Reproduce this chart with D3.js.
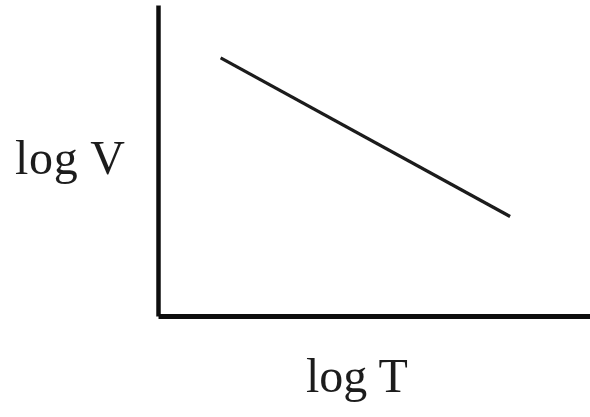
<!DOCTYPE html>
<html>
<head>
<meta charset="utf-8">
<script src="https://cdn.jsdelivr.net/npm/d3@7"></script>
<style>
  html, body { margin: 0; padding: 0; background: #fff; }
  svg { display: block; }
  text { font-family: "Liberation Serif", "Times New Roman", serif; fill: #1e1e1e; }
</style>
</head>
<body>
<svg id="chart" width="590" height="417"></svg>
<script>
// Schematic log V vs log T relation (arbitrary units)
const logT = [1.45, 8.15];
const logV = [8.3, 3.2];
const xLabel = "log T";
const yLabel = "log V";

const svg = d3.select("#chart");
const W = 590, H = 417;
const origin = { x: 158, y: 316 };

const x = d3.scaleLinear().domain([0, 10]).range([origin.x, W]);
const y = d3.scaleLinear().domain([0, 10]).range([origin.y, 5]);

svg.append("defs").append("filter").attr("id", "soft")
  .append("feGaussianBlur").attr("stdDeviation", 0.45);
const g = svg.append("g").attr("filter", "url(#soft)");

// Axes without ticks
const xAxis = d3.axisBottom(x).tickValues([]).tickSizeOuter(0);
const yAxis = d3.axisLeft(y).tickValues([]).tickSizeOuter(0);
g.append("g").attr("transform", `translate(0,${origin.y})`).call(xAxis)
  .select(".domain").attr("stroke", "#111").attr("stroke-width", 5);
g.append("g").attr("transform", `translate(${origin.x},0)`).call(yAxis)
  .select(".domain").attr("stroke", "#111").attr("stroke-width", 4.5);

// Straight relation line
const pts = logT.map((t, i) => [t, logV[i]]);
g.append("path")
  .datum(pts)
  .attr("fill", "none")
  .attr("stroke", "#1a1a1a")
  .attr("stroke-width", 3.2)
  .attr("d", d3.line().x(d => x(d[0])).y(d => y(d[1])));

// Axis titles
g.append("text").attr("x", 15).attr("y", 174)
  .attr("font-size", 48).attr("textLength", 110).text(yLabel);
g.append("text").attr("x", 306).attr("y", 392)
  .attr("font-size", 48).text(xLabel);
</script>
</body>
</html>
